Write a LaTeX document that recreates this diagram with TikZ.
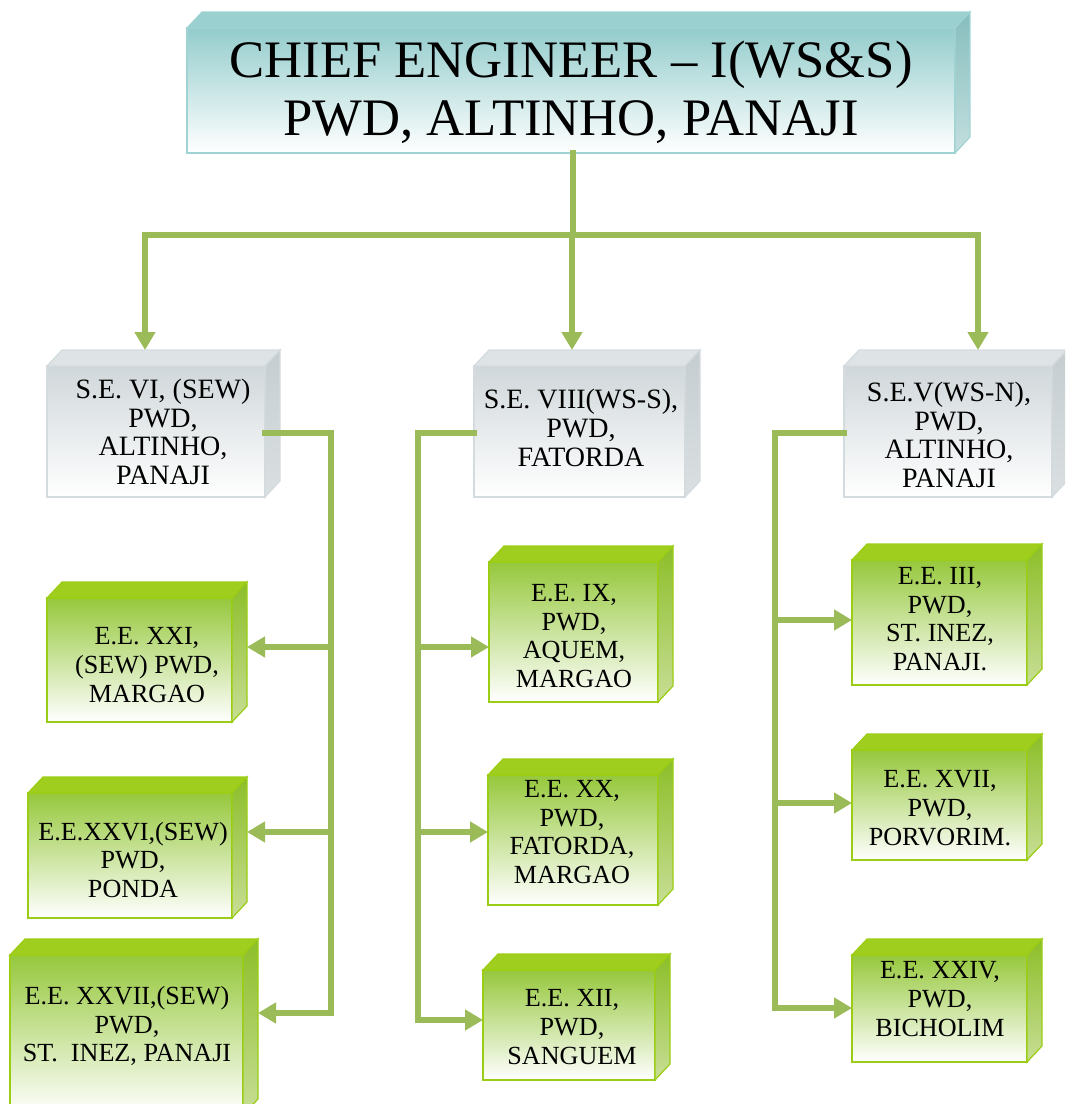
\documentclass[tikz,border=0pt]{standalone}
\usepackage{fontspec}
\setmainfont{Liberation Serif}
\usetikzlibrary{arrows.meta,calc,fit}
\definecolor{conn}{RGB}{155,187,89}
\definecolor{eeTop}{RGB}{150,200,60}
\definecolor{eeMid}{RGB}{205,228,165}
\definecolor{eeFace}{RGB}{160,206,30}
\definecolor{eeSideA}{RGB}{140,190,40}
\definecolor{eeSideB}{RGB}{200,222,150}
\definecolor{eeB}{RGB}{155,205,20}
\definecolor{seTop}{RGB}{208,215,218}
\definecolor{seMid}{RGB}{232,236,238}
\definecolor{seFace}{RGB}{222,227,229}
\definecolor{seSideA}{RGB}{198,205,208}
\definecolor{seSideB}{RGB}{218,224,226}
\definecolor{seB}{RGB}{212,219,222}
\definecolor{ceTop}{RGB}{148,204,204}
\definecolor{ceMid}{RGB}{205,232,232}
\definecolor{ceFace}{RGB}{155,208,208}
\definecolor{ceSideA}{RGB}{135,190,190}
\definecolor{ceSideB}{RGB}{195,222,222}
\definecolor{ceB}{RGB}{160,212,212}
\tikzset{
  eefront/.style={draw=eeB, line width=0.9pt, top color=eeTop, middle color=eeMid, bottom color=white},
  eetop/.style={draw=eeB, line width=0.9pt, fill=eeFace},
  eeside/.style={draw=eeB, line width=0.9pt, top color=eeSideA, bottom color=eeSideB},
  sefront/.style={draw=seB, line width=0.9pt, top color=seTop, middle color=seMid, bottom color=white},
  setop/.style={draw=seB, line width=0.9pt, fill=seFace},
  seside/.style={draw=seB, line width=0.9pt, top color=seSideA, bottom color=seSideB},
  cefront/.style={draw=ceB, line width=0.9pt, top color=ceTop, middle color=ceMid, bottom color=white},
  cetop/.style={draw=ceB, line width=0.9pt, fill=ceFace},
  ceside/.style={draw=ceB, line width=0.9pt, top color=ceSideA, bottom color=ceSideB},
  eetext/.style={align=center, font=\fontsize{19.6}{21.5}\selectfont, inner sep=0pt},
  setext/.style={align=center, font=\fontsize{21}{21.5}\selectfont, inner sep=0pt},
  cetext/.style={align=center, font=\fontsize{39.5}{43.5}\selectfont, inner sep=0pt},
  cline/.style={draw=conn, line width=5.2pt, line cap=rect, line join=miter},
  carrow/.style={draw=conn, line width=5.2pt, -{Triangle[length=13.5pt,width=15pt]}},
}
\newcommand{\bevbox}[6]{%
  \node[fit={(#2,{#3-16})({#4+15},#5)}, inner sep=0pt, outer sep=0pt] (#1) {};
  \path[#6front] (#2,#3) rectangle (#4,#5);
  \path[#6top] (#2,#3) -- ({#2+15},{#3-16}) -- ({#4+15},{#3-16}) -- (#4,#3) -- cycle;
  \path[#6side] (#4,#3) -- ({#4+15},{#3-16}) -- ({#4+15},{#5-16}) -- (#4,#5) -- cycle;
}
\begin{document}
\begin{tikzpicture}[x=0.75pt,y=-0.75pt]
\path[use as bounding box, clip] (0,0) rectangle (1065,1104);
% boxes
\bevbox{ce}{187}{28}{955}{153}{ce}
\node[cetext] (tce) at (571,92) {CHIEF ENGINEER – I(WS\&S)\\PWD, ALTINHO, PANAJI};
\bevbox{se1}{47}{366}{265}{497}{se}
\node[setext] (tse1) at (163,432) {S.E. VI, (SEW)\\PWD,\\ALTINHO,\\PANAJI};
\bevbox{se2}{474}{366}{685}{497}{se}
\node[setext] (tse2) at (581,428) {S.E. VIII(WS-S),\\PWD,\\FATORDA};
\bevbox{se3}{844}{366}{1052}{497}{se}
\node[setext] (tse3) at (949,435) {S.E.V(WS-N),\\PWD,\\ALTINHO,\\PANAJI};
\bevbox{ee21}{47}{598}{232}{722}{ee}
\node[eetext] (tee21) at (147,665) {E.E. XXI,\\(SEW) PWD,\\MARGAO};
\bevbox{ee26}{28}{793}{232}{918}{ee}
\node[eetext] (tee26) at (133,860) {E.E.XXVI,(SEW)\\PWD,\\PONDA};
\bevbox{ee27}{10}{955}{243}{1115}{ee}
\node[eetext] (tee27) at (127,1026) {E.E. XXVII,(SEW)\\PWD,\\ST.~~INEZ, PANAJI};
\bevbox{ee9}{489}{562}{658}{702}{ee}
\node[eetext] (tee9) at (574,636) {E.E. IX,\\PWD,\\AQUEM,\\MARGAO};
\bevbox{ee20}{488}{775}{658}{905}{ee}
\node[eetext] (tee20) at (572,832) {E.E. XX,\\PWD,\\FATORDA,\\MARGAO};
\bevbox{ee12}{483}{970}{655}{1080}{ee}
\node[eetext] (tee12) at (572,1027) {E.E. XII,\\PWD,\\SANGUEM};
\bevbox{ee3}{852}{560}{1027}{685}{ee}
\node[eetext] (tee3) at (940,619) {E.E. III,\\PWD,\\ST. INEZ,\\PANAJI.};
\bevbox{ee17}{852}{750}{1027}{860}{ee}
\node[eetext] (tee17) at (940,808) {E.E. XVII,\\PWD,\\PORVORIM.};
\bevbox{ee24}{852}{955}{1027}{1062}{ee}
\node[eetext] (tee24) at (940,999) {E.E. XXIV,\\PWD,\\BICHOLIM};
% top connectors
\coordinate (trunk) at (573,235);
\coordinate (jL) at (145,235);
\coordinate (jM) at (572,235);
\coordinate (jR) at (978,235);
\draw[cline] (ce.south -| trunk) -- (trunk);
\draw[cline] (jL) -- (jR);
\draw[carrow] (jL) -- (jL |- se1.north);
\draw[carrow] (jM) -- (jM |- se2.north);
\draw[carrow] (jR) -- (jR |- se3.north);
% left branch
\coordinate (vLt) at (331,433);
\coordinate (vLb) at (331,1013);
\coordinate (l1) at (331,647);
\coordinate (l2) at (331,832);
\draw[cline] ($(se1.east |- vLt)+(-15,0)$) -- (vLt) -- (vLb);
\draw[carrow] (l1) -- (ee21.east |- l1);
\draw[carrow] (l2) -- (ee26.east |- l2);
\draw[carrow] (vLb) -- (ee27.east |- vLb);
% middle branch
\coordinate (vMt) at (418,433);
\coordinate (vMb) at (418,1020);
\coordinate (m1) at (418,647);
\coordinate (m2) at (418,832);
\draw[cline] (se2.west |- vMt) -- (vMt) -- (vMb);
\draw[carrow] (m1) -- (ee9.west |- m1);
\draw[carrow] (m2) -- (ee20.west |- m2);
\draw[carrow] (vMb) -- (ee12.west |- vMb);
% right branch
\coordinate (vRt) at (775,433);
\coordinate (vRb) at (775,1008);
\coordinate (r1) at (775,620);
\coordinate (r2) at (775,803);
\draw[cline] (se3.west |- vRt) -- (vRt) -- (vRb);
\draw[carrow] (r1) -- (ee3.west |- r1);
\draw[carrow] (r2) -- (ee17.west |- r2);
\draw[carrow] (vRb) -- (ee24.west |- vRb);
\end{tikzpicture}
\end{document}
